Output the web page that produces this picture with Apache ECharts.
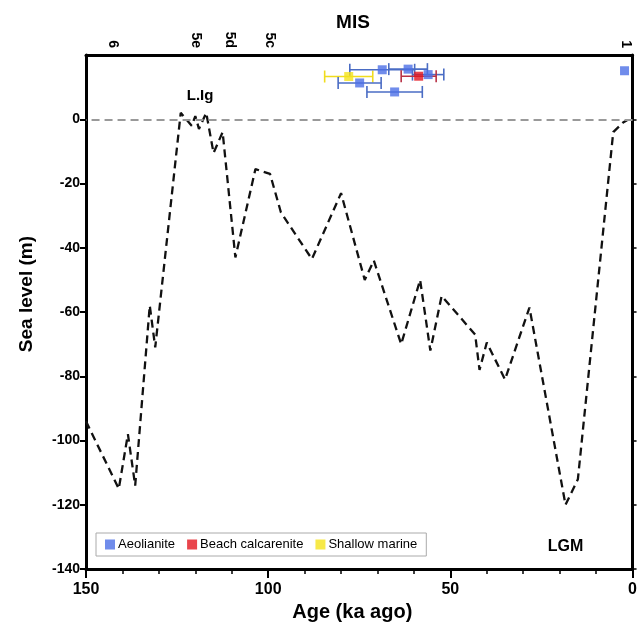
<!DOCTYPE html>
<html>
<head>
<meta charset="utf-8">
<script src="https://cdn.jsdelivr.net/npm/echarts@6/dist/echarts.min.js"></script>
<style>
  html, body { margin: 0; padding: 0; background: #fff; }
  #seaLevel { width: 640px; height: 627px; }
</style>
</head>
<body>
<div id="seaLevel"></div>
<script>
// sea level curve (age in ka, level in m)
var curveAge = [150, 141, 138.5, 136.5, 132.5, 131, 124, 121, 120, 119, 117, 115, 112.5, 109, 103.5, 99.5, 96.5, 88, 80, 73.5, 71, 63.5, 58.3, 55.5, 52.4, 43.2, 42, 40, 35, 28.3, 18.4, 15, 5.3, 2.6, 1.5];
var curveLevel = [-94, -115, -98, -114, -58, -71, 2, -2, 1, -3, 2, -10.5, -4, -43, -15.5, -17, -29, -43.5, -23, -50, -44, -70, -50, -72, -55, -67, -78, -69.5, -81, -58.6, -120, -112, -4, -1, -0.3];

// dated samples: age, level, age error (ka)
var aeolAge = [68.7, 61.6, 56.1, 74.9, 65.3, 2.2];
var aeolLevel = [15.4, 15.6, 13.9, 11.3, 8.5, 15.1];
var aeolErr = [8.9, 5.3, 4.3, 5.9, 7.6, 0];
var beachAge = [58.7];
var beachLevel = [13.4];
var beachErr = [4.8];
var marineAge = [77.9];
var marineLevel = [13.3];
var marineErr = [6.6];

// MIS stage labels on top
var misLabels = ['6', '5e', '5d', '5c', '1'];
var misAge = [142.6, 119.8, 110.5, 99.5, 1.9];

// sea level ticks
var levelTicks = [-140, -120, -100, -80, -60, -40, -20, 0];

var font = 'Liberation Sans, Arial, sans-serif';

function pairs(xs, ys) {
    return xs.map(function (x, i) { return [x, ys[i]]; });
}
function bars(xs, ys, es) {
    return xs.map(function (x, i) { return [x, ys[i], x - es[i], x + es[i]]; });
}
function errorBar(color) {
    return function (params, api) {
        var y = api.value(1);
        if (api.value(2) === api.value(3)) return null;
        var lo = api.coord([api.value(2), y]);
        var hi = api.coord([api.value(3), y]);
        var st = { stroke: color, lineWidth: 1.6 };
        return {
            type: 'group',
            children: [
                { type: 'line', shape: { x1: lo[0], y1: lo[1], x2: hi[0], y2: hi[1] }, style: st },
                { type: 'line', shape: { x1: lo[0], y1: lo[1] - 6, x2: lo[0], y2: lo[1] + 6 }, style: st },
                { type: 'line', shape: { x1: hi[0], y1: hi[1] - 6, x2: hi[0], y2: hi[1] + 6 }, style: st }
            ]
        };
    };
}

var chart = echarts.init(document.getElementById('seaLevel'));
var option = {
    animation: false,
    textStyle: { fontFamily: font },
    title: {
        text: 'MIS',
        left: 348,
        top: 8,
        textAlign: 'center',
        textStyle: { fontFamily: font, fontSize: 19, fontWeight: 'bold', color: '#000' }
    },
    grid: { left: 86, right: 7, top: 55, bottom: 54 },
    legend: {
        data: ['Aeolianite', 'Beach calcarenite', 'Shallow marine'],
        left: 96,
        top: 533,
        icon: 'rect',
        itemWidth: 10,
        itemHeight: 10,
        itemGap: 12,
        padding: [5, 9],
        borderColor: '#aaa',
        borderWidth: 1,
        backgroundColor: '#fff',
        textStyle: { fontFamily: font, fontSize: 13, color: '#000', padding: [0, 0, 0, -2] }
    },
    xAxis: [
        {
            type: 'value', min: 0, max: 150, interval: 50, inverse: true,
            name: 'Age (ka ago)', nameLocation: 'middle', nameGap: 30,
            nameTextStyle: { fontFamily: font, fontSize: 20, fontWeight: 'bold', color: '#000', padding: [0, 14, 0, 0] },
            axisLine: { onZero: false, lineStyle: { color: '#000', width: 3 } },
            axisTick: { length: 9, lineStyle: { color: '#000', width: 2 } },
            minorTick: { show: true, splitNumber: 5, length: 5, lineStyle: { color: '#000', width: 1.5 } },
            axisLabel: { fontFamily: font, fontSize: 16, fontWeight: 'bold', color: '#000', margin: 12 },
            splitLine: { show: false }
        },
        {
            type: 'value', min: 0, max: 150, inverse: true, position: 'top',
            axisLine: { onZero: false, lineStyle: { color: '#000', width: 3 } },
            axisTick: { show: false },
            axisLabel: {
                customValues: misAge,
                rotate: 90,
                margin: 7,
                fontFamily: font, fontSize: 14, fontWeight: 'bold', color: '#000',
                formatter: function (v) {
                    var i = misAge.indexOf(v);
                    return i >= 0 ? misLabels[i] : '';
                }
            },
            splitLine: { show: false }
        }
    ],
    yAxis: [
        {
            type: 'value', min: -140, max: 20, interval: 20,
            name: 'Sea level (m)', nameLocation: 'middle', nameGap: 50,
            nameTextStyle: { fontFamily: font, fontSize: 19, fontWeight: 'bold', color: '#000', padding: [0, 0, 0, 36] },
            axisLine: { onZero: false, lineStyle: { color: '#000', width: 3 } },
            axisTick: { customValues: levelTicks, length: 6, lineStyle: { color: '#000', width: 2 } },
            axisLabel: {
                customValues: levelTicks,
                fontFamily: font, fontSize: 14, fontWeight: 'bold', color: '#000', margin: 6
            },
            splitLine: { show: false }
        },
        {
            type: 'value', min: -140, max: 20, interval: 20, position: 'right',
            axisLine: { onZero: false, lineStyle: { color: '#000', width: 3 } },
            axisTick: { customValues: levelTicks, length: 4, lineStyle: { color: '#000', width: 1.5 } },
            axisLabel: { show: false },
            splitLine: { show: false }
        }
    ],
    series: [
        {
            name: 'curve',
            type: 'line',
            data: pairs(curveAge, curveLevel),
            showSymbol: false,
            lineStyle: { color: '#111', width: 2.3, type: [8, 5] },
            markLine: {
                silent: true,
                symbol: 'none',
                label: { show: false },
                lineStyle: { color: '#999', width: 2, type: [8, 5] },
                data: [{ yAxis: 0 }]
            },
            markPoint: {
                symbol: 'rect',
                symbolSize: 1,
                itemStyle: { color: 'rgba(0,0,0,0)' },
                label: { show: true, position: 'inside', fontFamily: font, fontWeight: 'bold', color: '#000', formatter: '{b}' },
                data: [
                    { name: 'L.Ig', coord: [118.7, 7.4], label: { fontSize: 15 } },
                    { name: 'LGM', coord: [18.4, -133], label: { fontSize: 16 } }
                ]
            },
            z: 2
        },
        {
            name: 'marineErr', type: 'custom', renderItem: errorBar('#f0dc1e'),
            data: bars(marineAge, marineLevel, marineErr), z: 3
        },
        {
            name: 'aeolErr', type: 'custom', renderItem: errorBar('#4a6cc4'),
            data: bars(aeolAge, aeolLevel, aeolErr), z: 3
        },
        {
            name: 'beachErr', type: 'custom', renderItem: errorBar('#b83246'),
            data: bars(beachAge, beachLevel, beachErr), z: 3
        },
        {
            name: 'Shallow marine', type: 'scatter', symbol: 'rect', symbolSize: 9,
            itemStyle: { color: '#f5e31a' },
            data: pairs(marineAge, marineLevel), z: 4
        },
        {
            name: 'Beach calcarenite', type: 'scatter', symbol: 'rect', symbolSize: 9,
            itemStyle: { color: '#e3161f' },
            data: pairs(beachAge, beachLevel), z: 4
        },
        {
            name: 'Aeolianite', type: 'scatter', symbol: 'rect', symbolSize: 9,
            itemStyle: { color: '#4c6fe6' },
            data: pairs(aeolAge, aeolLevel), z: 5
        }
    ]
};
chart.setOption(option);
</script>
</body>
</html>
